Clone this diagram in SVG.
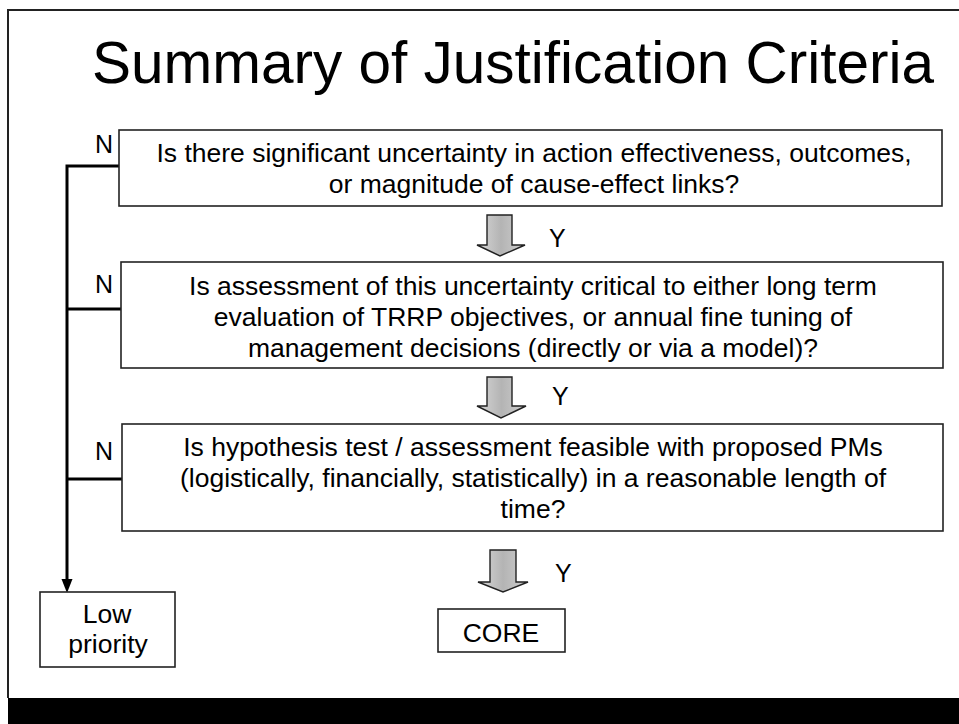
<svg xmlns="http://www.w3.org/2000/svg" width="959" height="724" viewBox="0 0 959 724">
<style>
text{font-family:"Liberation Sans",Arial,sans-serif;fill:#000}
.t{font-size:26.5px;text-anchor:middle}
.lab{font-size:25px}
.box{fill:#fff;stroke:#222;stroke-width:1.6}
.con{fill:none;stroke:#000;stroke-width:3}
.blk{fill:url(#g);stroke:#222;stroke-width:1.4;stroke-linejoin:miter}
</style>
<defs>
<linearGradient id="g" x1="0" y1="0" x2="1" y2="0">
<stop offset="0" stop-color="#d8d8d8"/>
<stop offset="0.5" stop-color="#b4b4b4"/>
<stop offset="1" stop-color="#cfcfcf"/>
</linearGradient>
</defs>
<rect x="0" y="0" width="959" height="724" fill="#fff"/>
<g id="frame">
<path d="M8,698 L8,10 L959,10" fill="none" stroke="#222" stroke-width="2"/>
<rect x="8" y="698" width="951" height="26" fill="#000"/>
</g>
<text id="title" x="92" y="83" style="font-size:58.5px">Summary of Justification Criteria</text>
<g id="connectors">
<path class="con" d="M119,166 L67,166 L67,581"/>
<path d="M61.5,579 L72.5,579 L67,593 Z" fill="#000"/>
<path class="con" d="M67,309 L121,309"/>
<path class="con" d="M67,479 L123,479"/>
<path class="blk" d="M487,215 L512,215 L512,245 L525,245 L500,256 L477,245 L487,245 Z"/>
<path class="blk" d="M487,377 L512,377 L512,406 L526,406 L501,418 L477,406 L487,406 Z"/>
<path class="blk" d="M490,550 L516,550 L516,582 L528,582 L503,592 L478,582 L490,582 Z"/>
<text class="lab" x="549" y="247">Y</text>
<text class="lab" x="552" y="405">Y</text>
<text class="lab" x="555" y="582">Y</text>
<text class="lab" x="95" y="153">N</text>
<text class="lab" x="95" y="293">N</text>
<text class="lab" x="95" y="460">N</text>
</g>
<g id="q1">
<rect class="box" x="119" y="130" width="823" height="76"/>
<text class="t" x="534" y="162">Is there significant uncertainty in action effectiveness, outcomes,</text>
<text class="t" x="534" y="193">or magnitude of cause-effect links?</text>
</g>
<g id="q2">
<rect class="box" x="121" y="262" width="822" height="106"/>
<text class="t" x="533" y="295">Is assessment of this uncertainty critical to either long term</text>
<text class="t" x="533" y="326">evaluation of TRRP objectives, or annual fine tuning of</text>
<text class="t" x="533" y="357">management decisions (directly or via a model)?</text>
</g>
<g id="q3">
<rect class="box" x="122" y="424" width="821" height="107"/>
<text class="t" x="533" y="456">Is hypothesis test / assessment feasible with proposed PMs</text>
<text class="t" x="533" y="487">(logistically, financially, statistically) in a reasonable length of</text>
<text class="t" x="533" y="518">time?</text>
</g>
<g id="low">
<rect class="box" x="40" y="592" width="135" height="75"/>
<text class="t" x="107" y="623">Low</text>
<text class="t" x="108" y="653">priority</text>
</g>
<g id="core">
<rect class="box" x="438" y="609" width="127" height="43"/>
<text class="t" x="501" y="642">CORE</text>
</g>
</svg>
